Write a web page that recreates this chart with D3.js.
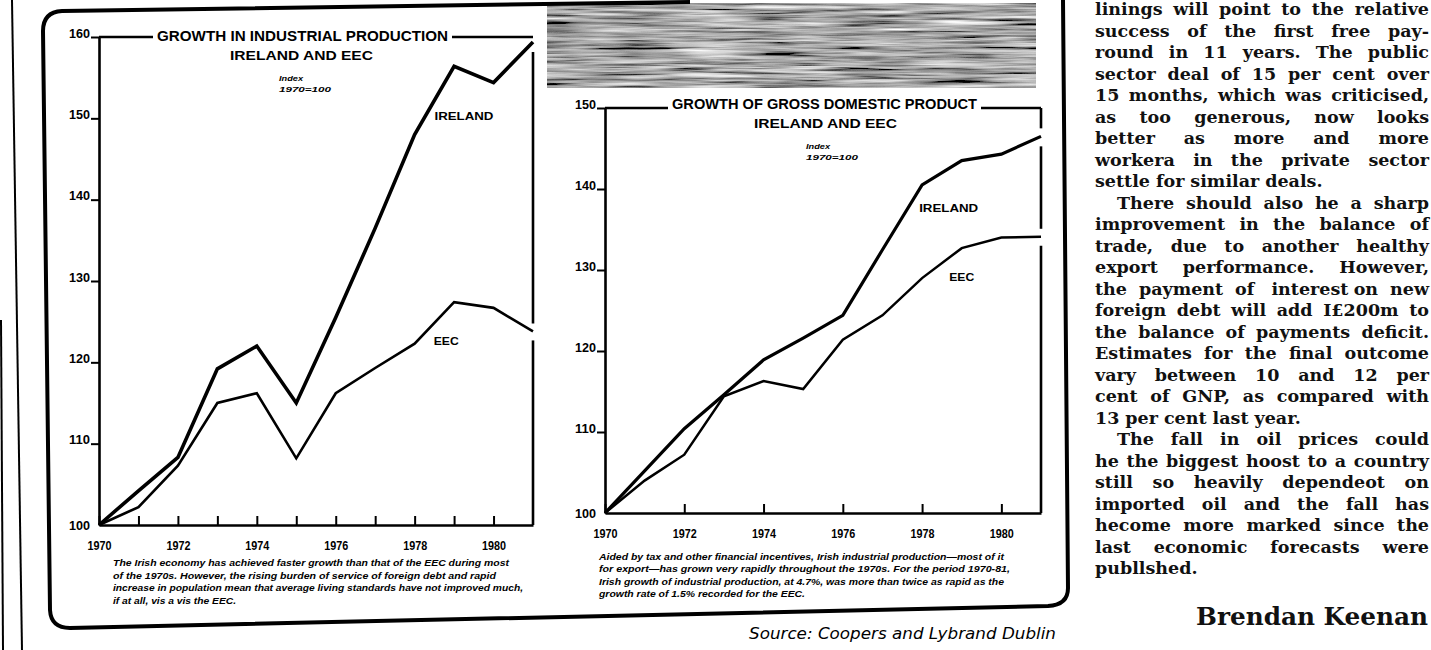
<!DOCTYPE html>
<html>
<head>
<meta charset="utf-8">
<script src="https://cdnjs.cloudflare.com/ajax/libs/d3/7.8.5/d3.min.js"></script>
<style>
    html, body { margin: 0; padding: 0; background: #fff; }
    svg { display: block; }
</style>
</head>
<body>
<svg id="page" width="1431" height="650"></svg>
<script>
// values, index 1970 = 100
const years = [1970, 1971, 1972, 1973, 1974, 1975, 1976, 1977, 1978, 1979, 1980, 1981];
const prodIreland = [100, 104.2, 108.3, 119.2, 122, 115, 125.5, 136.5, 148, 156.4, 154.4, 159.4];
const prodEEC = [100, 102.2, 107.3, 115, 116.2, 108.2, 116.2, 119.3, 122.3, 127.4, 126.7, 123.8];
const gdpIreland = [100, 105.2, 110.4, 114.6, 118.9, 121.6, 124.4, 132.5, 140.5, 143.5, 144.3, 146.5];
const gdpEEC = [100, 104, 107.2, 114.4, 116.3, 115.3, 121.4, 124.4, 129, 132.7, 134, 134.1];

const prodTicks = [100, 110, 120, 130, 140, 150, 160];
const gdpTicks = [100, 110, 120, 130, 140, 150];
const prodYearTicks = [1970, 1971, 1972, 1973, 1974, 1975, 1976, 1977, 1978, 1979, 1980];
const gdpYearTicks = [1970, 1972, 1974, 1976, 1978, 1980];
const seriesNames = ["IRELAND", "EEC"];

const prodCaption = [
    "The Irish economy has achieved faster growth than that of the EEC during most",
    "of the 1970s.  However, the rising burden of service of foreign debt and rapid",
    "increase in population mean that average living standards have not improved much,",
    "if at all, vis a vis the EEC."
];
const gdpCaption = [
    "Aided by tax and other financial incentives, Irish industrial production\u2014most of it",
    "for export\u2014has grown very rapidly throughout the 1970s.  For the period 1970-81,",
    "Irish growth of industrial production, at 4.7%, was more than twice as rapid as the",
    "growth rate of 1.5% recorded for the EEC."
];

const columnLines = [
    ["linings will point to the relative", "j"],
    ["success of the first free pay-", "j"],
    ["round in 11 years. The public", "j"],
    ["sector deal of 15 per cent over", "j"],
    ["15 months, which was criticised,", "j"],
    ["as too generous, now looks", "j"],
    ["better as more and more", "j"],
    ["workera in the private sector", "j"],
    ["settle for similar deals.", "e"],
    ["There should also he a sharp", "ij"],
    ["improvement in the balance of", "j"],
    ["trade, due to another healthy", "j"],
    ["export performance. However,", "j"],
    ["the payment of interest on new", "j"],
    ["foreign debt will add I\u00a3200m to", "j"],
    ["the balance of payments deficit.", "j"],
    ["Estimates for the final outcome", "j"],
    ["vary between 10 and 12 per", "j"],
    ["cent of GNP, as compared with", "j"],
    ["13 per cent last year.", "e"],
    ["The fall in oil prices could", "ij"],
    ["he the biggest hoost to a country", "j"],
    ["still so heavily dependeot on", "j"],
    ["imported oil and the fall has", "j"],
    ["hecome more marked since the", "j"],
    ["last economic forecasts were", "j"],
    ["publlshed.", "e"]
];

const svg = d3.select("#page");
svg.append("rect").attr("width", 1431).attr("height", 650).attr("fill", "#fff");

// halftone strip at the top (photo above the second chart)
let defs = svg.append("defs");
let flt = defs.append("filter").attr("id", "halftone")
    .attr("x", 0).attr("y", 0).attr("width", 1).attr("height", 1);
flt.append("feTurbulence").attr("type", "fractalNoise")
    .attr("baseFrequency", "0.012 0.32").attr("numOctaves", 3).attr("seed", 7).attr("result", "n");
flt.append("feColorMatrix").attr("in", "n").attr("type", "matrix")
    .attr("values", "0.33 0.33 0.33 0 0 0.33 0.33 0.33 0 0 0.33 0.33 0.33 0 0 0 0 0 0 1")
    .attr("result", "g");
let ct = flt.append("feComponentTransfer").attr("in", "g").attr("result", "c");
["feFuncR", "feFuncG", "feFuncB"].forEach(f =>
    ct.append(f).attr("type", "linear").attr("slope", 2.6).attr("intercept", -0.9));
flt.append("feComposite").attr("in", "c").attr("in2", "SourceGraphic").attr("operator", "in");

svg.append("rect")
    .attr("x", 547).attr("y", 3).attr("width", 489).attr("height", 85)
    .attr("fill", "#777")
    .attr("filter", "url(#halftone)");

// rules and the box round both charts
let frame = svg.append("g").attr("fill", "none").attr("stroke", "#000");
frame.append("path").attr("d", "M12,0 L22,650").attr("stroke-width", 2);
frame.append("path").attr("d", "M1,320 L3,650").attr("stroke-width", 2);
frame.append("path")
    .attr("d", "M690,2 L62,11 Q43,12 43,31 L50,610 Q51,628 70,628 L1048,606 Q1068,605 1068,588 L1063,0")
    .attr("stroke-width", 4);

function drawChart(cfg) {
    let x = d3.scaleLinear().domain([years[0], years[years.length - 1]]).range(cfg.xRange);
    let y = d3.scaleLinear().domain([cfg.yTicks[0], cfg.yTicks[cfg.yTicks.length - 1]]).range(cfg.yRange);
    let g = svg.append("g");
    let top = y.range()[1], bottom = y.range()[0];
    let left = x.range()[0], right = x.range()[1];

    // title
    let t1 = g.append("text")
        .attr("x", cfg.titleX).attr("y", cfg.titleY)
        .attr("textLength", cfg.titleW).attr("lengthAdjust", "spacingAndGlyphs")
        .style("font", "bold 15px 'Liberation Sans', Arial, sans-serif")
        .text(cfg.title);
    g.append("text")
        .attr("x", cfg.subX).attr("y", cfg.titleY + 19)
        .attr("textLength", 143).attr("lengthAdjust", "spacingAndGlyphs")
        .style("font", "bold 13px 'Liberation Sans', Arial, sans-serif")
        .text("IRELAND AND EEC");
    g.append("text")
        .attr("x", cfg.indexX).attr("y", cfg.titleY + 40)
        .attr("textLength", 24).attr("lengthAdjust", "spacingAndGlyphs")
        .style("font", "italic bold 8px 'Liberation Sans', Arial, sans-serif")
        .text("Index");
    g.append("text")
        .attr("x", cfg.indexX).attr("y", cfg.titleY + 51)
        .attr("textLength", 52).attr("lengthAdjust", "spacingAndGlyphs")
        .style("font", "italic bold 8px 'Liberation Sans', Arial, sans-serif")
        .text("1970=100");

    let tb = t1.node().getBBox();
    let endA = y(cfg.ireland[cfg.ireland.length - 1]);
    let endB = y(cfg.eec[cfg.eec.length - 1]);
    let fr = g.append("g").attr("stroke", "#000").attr("stroke-width", 2.6).attr("fill", "none");
    fr.append("line").attr("x1", left).attr("x2", tb.x - 4).attr("y1", top).attr("y2", top);
    fr.append("line").attr("x1", tb.x + tb.width + 4).attr("x2", right).attr("y1", top).attr("y2", top);
    let segs = [[top, endA - 8], [endA + 10, endB - 8], [endB + 9, bottom]];
    segs.forEach(s => {
        if (s[1] > s[0]) fr.append("line").attr("x1", right).attr("x2", right).attr("y1", s[0]).attr("y2", s[1]);
    });

    // axes
    let xAxis = d3.axisBottom(x)
        .tickValues(cfg.xTicks)
        .tickSize(-9).tickSizeOuter(0).tickPadding(16)
        .tickFormat(d => d % 2 === 0 ? String(d) : "");
    let xg = g.append("g").attr("transform", "translate(0," + bottom + ")").call(xAxis);
    let yAxis = d3.axisLeft(y)
        .tickValues(cfg.yTicks)
        .tickSize(8).tickSizeOuter(0).tickPadding(1);
    let yg = g.append("g").attr("transform", "translate(" + left + ",0)").call(yAxis);

    [xg, yg].forEach(a => {
        a.select(".domain").attr("stroke", "#000").attr("stroke-width", 2.6);
        a.selectAll(".tick line").attr("stroke", "#000").attr("stroke-width", 2);
        a.selectAll(".tick text")
            .attr("fill", "#000")
            .style("font", "bold 13px 'Liberation Sans', Arial, sans-serif")
            .attr("lengthAdjust", "spacingAndGlyphs");
    });
    xg.selectAll(".tick text").attr("textLength", d => d % 2 === 0 ? 24 : null);
    yg.selectAll(".tick text")
        .attr("textLength", 21)
        .attr("dy", d => d === cfg.yTicks[0] ? "0.36em" : "0em");
    yg.selectAll(".tick line").filter(d => d === cfg.yTicks[0]).remove();

    // the two series
    let line = d3.line().x(d => x(d[0])).y(d => y(d[1]));
    g.append("path")
        .datum(d3.zip(years, cfg.eec))
        .attr("fill", "none").attr("stroke", "#000")
        .attr("stroke-width", cfg.eecW).attr("stroke-linejoin", "miter")
        .attr("d", line);
    g.append("path")
        .datum(d3.zip(years, cfg.ireland))
        .attr("fill", "none").attr("stroke", "#000")
        .attr("stroke-width", cfg.irelandW).attr("stroke-linejoin", "miter")
        .attr("d", line);

    // series labels
    cfg.labels.forEach((p, i) => {
        g.append("text")
            .attr("x", x(p[0])).attr("y", y(p[1]))
            .attr("text-anchor", "middle").attr("dy", "0.35em")
            .attr("textLength", i === 0 ? 59 : 25).attr("lengthAdjust", "spacingAndGlyphs")
            .style("font", "bold 11px 'Liberation Sans', Arial, sans-serif")
            .text(seriesNames[i]);
    });

    // caption under the chart
    cfg.caption.forEach((c, i) => {
        g.append("text")
            .attr("x", cfg.capX).attr("y", cfg.capY + i * cfg.capStep)
            .attr("textLength", cfg.capW[i]).attr("lengthAdjust", "spacingAndGlyphs")
            .style("font", "italic bold 9.5px 'Liberation Sans', Arial, sans-serif")
            .text(c);
    });
}

drawChart({
    xRange: [99, 533], yRange: [525, 37], yTicks: prodTicks, xTicks: prodYearTicks,
    ireland: prodIreland, eec: prodEEC, irelandW: 3.6, eecW: 2.6,
    title: "GROWTH IN INDUSTRIAL PRODUCTION", titleX: 157, titleY: 41, titleW: 291,
    subX: 230, indexX: 279,
    labels: [[1979.25, 150.3], [1978.8, 122.6]],
    caption: prodCaption, capX: 113, capY: 566, capStep: 12.6, capW: [396, 383, 410, 123]
});

drawChart({
    xRange: [605, 1041], yRange: [513, 108], yTicks: gdpTicks, xTicks: gdpYearTicks,
    ireland: gdpIreland, eec: gdpEEC, irelandW: 3.2, eecW: 2.5,
    title: "GROWTH OF GROSS DOMESTIC PRODUCT", titleX: 672, titleY: 109, titleW: 305,
    subX: 754, indexX: 806,
    labels: [[1978.67, 137.6], [1979, 129.1]],
    caption: gdpCaption, capX: 599, capY: 560, capStep: 12.4, capW: [405, 411, 405, 206]
});

svg.append("text")
    .attr("x", 749).attr("y", 639)
    .attr("textLength", 307).attr("lengthAdjust", "spacingAndGlyphs")
    .style("font", "italic 15px 'DejaVu Sans', sans-serif")
    .text("Source: Coopers and Lybrand Dublin");

// newspaper column on the right, justified word by word
let col = svg.append("g")
    .style("font", "bold 17.5px 'DejaVu Serif', serif")
    .attr("fill", "#111");
let colLeft = 1095, colRight = 1429, indent = 22;
columnLines.forEach((ln, i) => {
    let words = ln[0].split(" ");
    let t = col.append("text").attr("y", 15 + i * 21.5);
    let spans = words.map(w => t.append("tspan").text(w));
    let widths = spans.map(s => s.node().getComputedTextLength());
    let x0 = colLeft + (ln[1].indexOf("i") >= 0 ? indent : 0);
    let gap = 6;
    if (ln[1].indexOf("j") >= 0 && words.length > 1) {
        gap = (colRight - x0 - d3.sum(widths)) / (words.length - 1);
    }
    let xx = x0;
    spans.forEach((s, k) => { s.attr("x", xx); xx += widths[k] + gap; });
});

svg.append("text")
    .attr("x", 1196).attr("y", 625)
    .attr("textLength", 232).attr("lengthAdjust", "spacingAndGlyphs")
    .style("font", "bold 25px 'DejaVu Serif', serif")
    .attr("fill", "#111")
    .text("Brendan Keenan");
</script>
</body>
</html>
